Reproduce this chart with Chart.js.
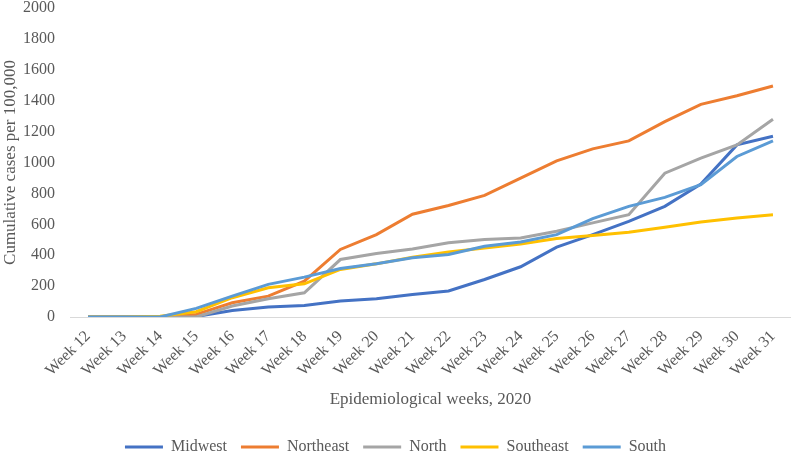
<!DOCTYPE html>
<html>
<head>
<meta charset="utf-8">
<script src="https://cdn.jsdelivr.net/npm/chart.js@4"></script>
<style>
  body { margin: 0; background: #fff; }
  #wrap { width: 791px; height: 451px; }
</style>
</head>
<body>
<div id="wrap"><canvas id="myChart"></canvas></div>
<script>
const weeks = ["Week 12", "Week 13", "Week 14", "Week 15", "Week 16", "Week 17", "Week 18", "Week 19", "Week 20", "Week 21",
  "Week 22", "Week 23", "Week 24", "Week 25", "Week 26", "Week 27", "Week 28", "Week 29", "Week 30", "Week 31"];

const midwest   = [0, 0, 0, 3, 42, 64, 75, 103, 118, 146, 168, 243, 325, 452, 533, 619, 716, 860, 1114, 1170];
const northeast = [0, 0, 0, 17, 92, 135, 232, 437, 533, 665, 722, 787, 899, 1011, 1088, 1140, 1265, 1376, 1432, 1495];
const north     = [0, 0, 0, 0, 71, 118, 157, 372, 411, 440, 480, 501, 512, 555, 609, 662, 931, 1028, 1114, 1280];
const southeast = [0, 0, 5, 34, 125, 189, 215, 308, 344, 387, 421, 447, 473, 508, 527, 548, 581, 615, 641, 662];
const south     = [0, 0, 0, 56, 135, 211, 258, 314, 344, 383, 404, 458, 486, 533, 637, 716, 774, 856, 1039, 1140];

const yTicks = [0, 200, 400, 600, 800, 1000, 1200, 1400, 1600, 1800, 2000];

const textColor = "#595959";
const fontFamily = "'Liberation Serif', 'Times New Roman', serif";

// excel draws later series on top, chart.js the opposite -> use order
const makeSet = (label, data, color, order) => ({
  label: label,
  data: data,
  borderColor: color,
  backgroundColor: color,
  borderWidth: 3,
  pointRadius: 0,
  tension: 0,
  fill: false,
  order: order
});

const ctx = document.getElementById("myChart");

new Chart(ctx, {
  type: "line",
  data: {
    labels: weeks,
    datasets: [
      makeSet("Midwest", midwest, "#4472C4", 5),
      makeSet("Northeast", northeast, "#ED7D31", 4),
      makeSet("North", north, "#A5A5A5", 3),
      makeSet("Southeast", southeast, "#FFC000", 2),
      makeSet("South", south, "#5B9BD5", 1)
    ]
  },
  options: {
    responsive: true,
    maintainAspectRatio: false,
    animation: false,
    layout: { padding: { top: 8, right: 0, bottom: -14, left: 0 } },
    plugins: {
      tooltip: { enabled: false },
      legend: {
        position: "bottom",
        labels: {
          color: textColor,
          font: { family: fontFamily, size: 16 },
          usePointStyle: true,
          pointStyle: "line",
          pointStyleWidth: 38,
          padding: 14,
          sort: (a, b) => a.datasetIndex - b.datasetIndex
        }
      }
    },
    scales: {
      x: {
        offset: true,
        grid: { display: false },
        border: { display: true, color: "#D9D9D9", width: 1 },
        afterFit: (scale) => {
          scale.height = 108;
        },
        ticks: {
          color: textColor,
          font: { family: fontFamily, size: 16 },
          minRotation: 45,
          maxRotation: 45,
          autoSkip: false,
          padding: 2
        },
        title: {
          display: true,
          text: "Epidemiological weeks, 2020",
          color: textColor,
          font: { family: fontFamily, size: 17 },
          padding: { top: 0, bottom: 15 }
        }
      },
      y: {
        min: 0,
        max: 2000,
        grid: { display: false, drawTicks: false },
        border: { display: false },
        afterBuildTicks: (scale) => {
          scale.ticks = yTicks.map(v => ({ value: v }));
        },
        afterFit: (scale) => {
          scale.width = 70;
          scale.paddingTop = 0;
          scale.paddingBottom = 0;
        },
        ticks: {
          color: textColor,
          font: { family: fontFamily, size: 16 },
          padding: 15,
          callback: (v) => String(v)
        },
        title: {
          display: true,
          text: "Cumulative cases per 100,000",
          color: textColor,
          font: { family: fontFamily, size: 17 },
          padding: { top: 0, bottom: 0 }
        }
      }
    }
  }
});
</script>
</body>
</html>
